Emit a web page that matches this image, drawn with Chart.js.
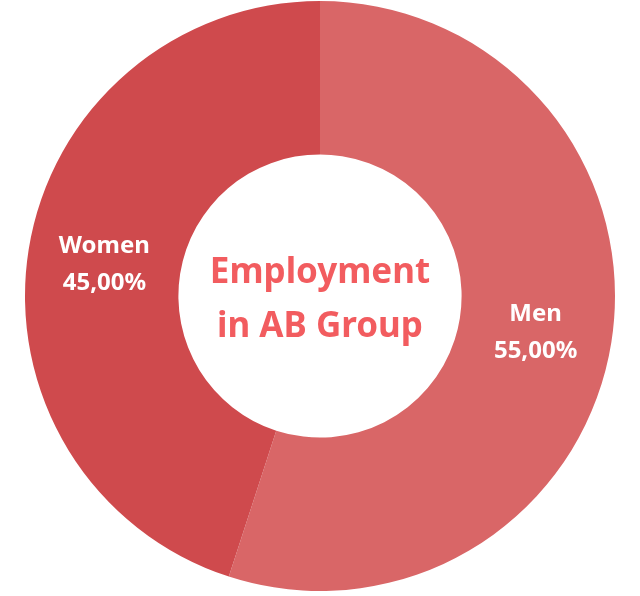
<!DOCTYPE html>
<html>
<head>
<meta charset="utf-8">
<script src="https://cdn.jsdelivr.net/npm/chart.js@4"></script>
<style>
  html, body { margin: 0; padding: 0; background: #fff; }
  #wrap { width: 640px; height: 596px; position: relative; }
</style>
</head>
<body>
<div id="wrap"><canvas id="chart"></canvas></div>
<script>
// data
const labels = ['Men', 'Women'];
const shares = [55, 45];
const colors = ['#d96667', '#cf4a4d'];
const centerLines = ['Employment', 'in AB Group'];

// draws "label / value%" on each slice
const sliceLabels = {
  id: 'sliceLabels',
  afterDatasetsDraw(chart) {
    const ctx = chart.ctx;
    const meta = chart.getDatasetMeta(0);
    ctx.save();
    ctx.fillStyle = '#ffffff';
    ctx.textAlign = 'center';
    ctx.textBaseline = 'middle';
    ctx.font = 'bold 24px "Noto Sans"';
    meta.data.forEach(function (arc, i) {
      const p = arc.tooltipPosition();
      const pct = shares[i].toFixed(2).replace('.', ',') + '%';
      ctx.fillText(labels[i], p.x, p.y - 16);
      ctx.fillText(pct, p.x, p.y + 21);
    });
    ctx.restore();
  }
};

// title in the hole
const centerText = {
  id: 'centerText',
  afterDraw(chart) {
    const ctx = chart.ctx;
    const arc = chart.getDatasetMeta(0).data[0];
    ctx.save();
    ctx.fillStyle = '#f25c5f';
    ctx.textAlign = 'center';
    ctx.textBaseline = 'middle';
    ctx.font = 'bold 35px "Noto Sans"';
    ctx.fillText(centerLines[0], arc.x, arc.y - 23);
    ctx.fillText(centerLines[1], arc.x, arc.y + 31);
    ctx.restore();
  }
};

new Chart(document.getElementById('chart'), {
  type: 'doughnut',
  data: {
    labels: labels,
    datasets: [{
      data: shares,
      backgroundColor: colors,
      borderWidth: 0
    }]
  },
  options: {
    responsive: true,
    maintainAspectRatio: false,
    animation: false,
    cutout: '48%',
    layout: { padding: { top: 1, bottom: 5, left: 0, right: 0 } },
    plugins: {
      legend: { display: false },
      tooltip: { enabled: false }
    }
  },
  plugins: [sliceLabels, centerText]
});
</script>
</body>
</html>
